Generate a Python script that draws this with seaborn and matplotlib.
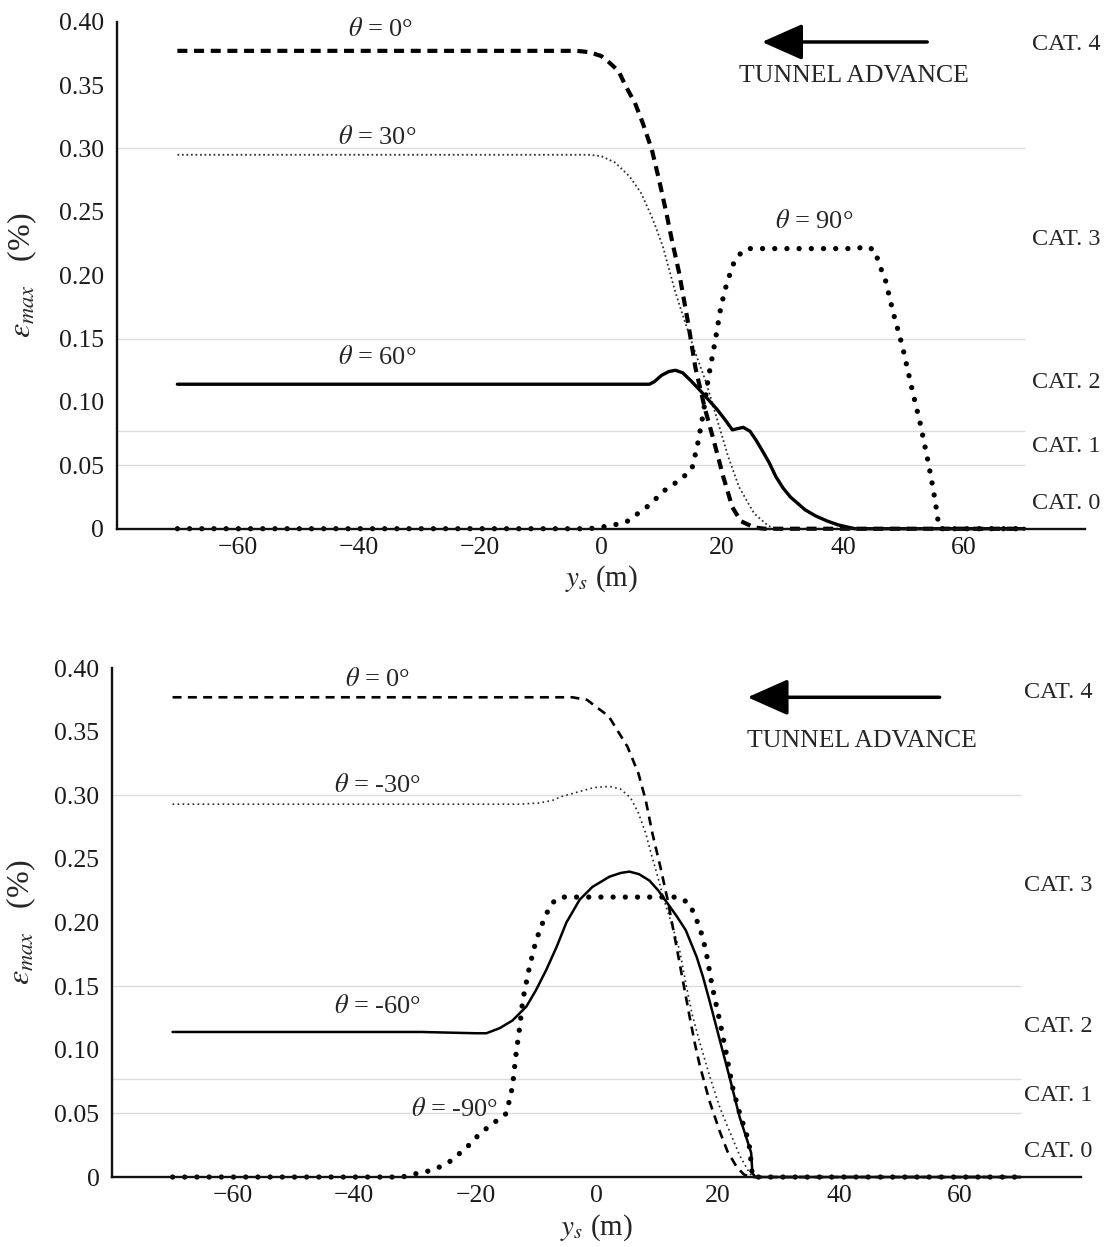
import numpy as np
import pandas as pd
import seaborn as sns
import matplotlib.pyplot as plt

# ---- upper panel (theta = 0, 30, 60, 90) ----
x0_top = [-70, -10, -4, -2, 0, 1.1, 2.9, 4.1, 5.6, 6.9, 8.4, 9.6, 10.8, 11.7, 12.9, 14.4,
          15.6, 17.1, 18.6, 20.2, 21.7, 23.1, 25.3, 27, 70]
y0_top = [0.377, 0.377, 0.377, 0.376, 0.373, 0.369, 0.361, 0.349, 0.336, 0.320, 0.299, 0.275,
          0.249, 0.228, 0.202, 0.162, 0.127, 0.096, 0.070, 0.041, 0.017, 0.006, 0.001, 0, 0]

x30_top = [-70, -4, -2, 0, 2.3, 4.7, 6.6, 8.4, 10.2, 11.4, 12.2, 13.4, 15.5, 17.4, 19.2, 21.0,
           22.8, 25.3, 27.7, 29, 70]
y30_top = [0.295, 0.295, 0.295, 0.294, 0.289, 0.278, 0.265, 0.246, 0.223, 0.202, 0.188, 0.170,
           0.140, 0.115, 0.086, 0.057, 0.033, 0.012, 0.002, 0, 0]

x60_top = [-70, 8.0, 8.8, 10, 11.2, 12.3, 13.5, 14.8, 16.2, 17.7, 19.2, 20.5, 21.7, 22.6, 23.5,
           24.6, 25.6, 26.6, 27.8, 28.9, 30.1, 31.3, 33.7, 35.5, 37.4, 39.2, 41.0, 42, 70]
y60_top = [0.114, 0.114, 0.116, 0.121, 0.124, 0.125, 0.123, 0.117, 0.110, 0.102, 0.094, 0.086,
           0.078, 0.079, 0.080, 0.077, 0.070, 0.062, 0.052, 0.041, 0.032, 0.025, 0.015, 0.010,
           0.006, 0.003, 0.001, 0, 0]

x90_top = [-70, -2, 1.1, 4.1, 7.8, 10.7, 13.2, 15.0, 15.9, 16.9, 17.7, 18.9, 19.8, 20.8, 22.1,
           23.6, 24.6, 42.5, 43.4, 45.2, 46.1, 47.0, 48.3, 49.8, 51.3, 52.7, 54.0, 54.9, 55.5,
           55.8, 56.2, 70]
y90_top = [0, 0, 0.002, 0.005, 0.018, 0.031, 0.039, 0.047, 0.065, 0.091, 0.118, 0.149, 0.175,
           0.194, 0.212, 0.220, 0.221, 0.221, 0.223, 0.220, 0.207, 0.196, 0.170, 0.144, 0.112,
           0.084, 0.054, 0.031, 0.013, 0.002, 0, 0]

# ---- lower panel (theta = 0, -30, -60, -90) ----
x0_bot = [-70, -8, -4, -1.6, 2.0, 5.1, 6.9, 8.1, 9.2, 10.5, 11.7, 13.1, 14.2, 15.3, 16.2, 17.0,
          18.6, 20.3, 21.6, 23.1, 24.3, 25.4, 26, 70]
y0_bot = [0.377, 0.377, 0.377, 0.375, 0.362, 0.338, 0.317, 0.296, 0.270, 0.244, 0.218, 0.183,
          0.155, 0.127, 0.105, 0.088, 0.060, 0.036, 0.020, 0.008, 0.002, 0, 0, 0]

x30_bot = [-70, -29, -12.7, -9.4, -7.3, -5.8, -2.8, -0.5, 2.1, 3.9, 5.6, 6.9, 8.1, 9.0, 9.9,
           11.1, 12.3, 13.7, 14.8, 15.8, 17.0, 18.6, 20.3, 21.4, 23.6, 25.0, 25.7, 70]
y30_bot = [0.293, 0.293, 0.293, 0.294, 0.296, 0.299, 0.303, 0.306, 0.307, 0.305, 0.298, 0.286,
           0.270, 0.254, 0.239, 0.218, 0.200, 0.178, 0.150, 0.127, 0.106, 0.080, 0.055, 0.042,
           0.017, 0.005, 0, 0]

x60_bot = [-70, -29, -20, -18.2, -16, -13.9, -11.6, -10, -8.3, -6.6, -5, -2.8, -0.7, 2.1, 4.0,
           5.4, 7.0, 8.7, 10.2, 11.7, 13.2, 14.7, 16.5, 17.5, 18.6, 20.3, 21.9, 23.6, 24.7, 25.5,
           25.7, 26.2, 70]
y60_bot = [0.114, 0.114, 0.113, 0.113, 0.117, 0.123, 0.134, 0.147, 0.163, 0.181, 0.200, 0.218,
           0.228, 0.236, 0.239, 0.240, 0.238, 0.233, 0.225, 0.215, 0.205, 0.194, 0.173, 0.158,
           0.139, 0.108, 0.079, 0.047, 0.031, 0.019, 0.003, 0, 0]

x90_bot = [-70, -32, -30.9, -29.2, -27.1, -25.4, -24.3, -21.5, -19.3, -17.7, -14.9, -13.9, -13.3,
           -12.7, -12.2, -11.1, -10.0, -8.9, -7.8, -6.8, -5.6, 13.5, 15.3, 16.5, 17.4, 18.1, 19.1,
           20.3, 21.4, 22.4, 23.6, 24.7, 25.2, 25.5, 25.7, 70]
y90_bot = [0, 0, 0.002, 0.003, 0.0055, 0.009, 0.012, 0.023, 0.034, 0.040, 0.050, 0.071, 0.097,
           0.118, 0.139, 0.165, 0.186, 0.200, 0.212, 0.218, 0.220, 0.220, 0.215, 0.202, 0.190,
           0.176, 0.149, 0.123, 0.097, 0.071, 0.050, 0.034, 0.024, 0.011, 0, 0]

cat_labels = ['CAT. 4', 'CAT. 3', 'CAT. 2', 'CAT. 1', 'CAT. 0']
cat_y_top = [0.382, 0.228, 0.115, 0.065, 0.020]
cat_y_bot = [0.381, 0.229, 0.118, 0.064, 0.020]
grid_levels = [0.05, 0.077, 0.15, 0.30]
yticks = [0, 0.05, 0.10, 0.15, 0.20, 0.25, 0.30, 0.35, 0.40]
ytick_labels = ['0', '0.05', '0.10', '0.15', '0.20', '0.25', '0.30', '0.35', '0.40']
xticks = [-60, -40, -20, 0, 20, 40, 60]

sns.set_theme(style='white')
plt.rcParams['font.family'] = ['Liberation Serif', 'DejaVu Serif']
plt.rcParams['mathtext.fontset'] = 'stix'

fig = plt.figure(figsize=(11.13, 12.47), dpi=100)
ax1 = fig.add_axes([0.105, 0.576, 0.870, 0.4066])
ax2 = fig.add_axes([0.1006, 0.0561, 0.871, 0.4082])


def draw(ax, x, y, **kw):
    sns.lineplot(x=x, y=y, ax=ax, color='black', clip_on=False, **kw)


# upper panel lines
draw(ax1, x0_top, y0_top, lw=3.0, linestyle=(0, (2.4, 1.6)))
draw(ax1, x30_top, y30_top, lw=1.3, linestyle=(0, (1, 1.5)), alpha=0.8)
draw(ax1, x60_top, y60_top, lw=2.4)
draw(ax1, x90_top, y90_top, lw=3.8, linestyle=(0, (0.01, 2.3)), dash_capstyle='round')

# lower panel lines
draw(ax2, x0_bot, y0_bot, lw=1.9, linestyle=(0, (3.4, 2.4)))
draw(ax2, x30_bot, y30_bot, lw=1.2, linestyle=(0, (1, 2.0)), alpha=0.85)
draw(ax2, x60_bot, y60_bot, lw=1.8)
draw(ax2, x90_bot, y90_bot, lw=3.8, linestyle=(0, (0.01, 2.3)), dash_capstyle='round')

for ax in (ax1, ax2):
    ax.hlines(grid_levels, -80, 70, color='#dcdcdc', lw=1.0, zorder=0)
    ax.set_xlim(-80, 80)
    ax.set_ylim(0, 0.40)
    ax.set_xticks(xticks)
    ax.set_yticks(yticks)
    ax.set_yticklabels(ytick_labels)
    ax.tick_params(direction='in', length=7, width=1.3, labelsize=18.5, colors='#1a1a1a')
    ax.tick_params(axis='y', pad=9)
    ax.tick_params(axis='x', pad=6)
    for side in ('top', 'right'):
        ax.spines[side].set_visible(False)
    for side in ('left', 'bottom'):
        ax.spines[side].set_linewidth(1.7)
        ax.spines[side].set_color('#111111')
    ax.set_ylabel(r'$\varepsilon_{max}$   (%)', fontsize=23)
    ax.set_xlabel(r'$y_s$ (m)', fontsize=21)

ax1.yaxis.set_label_coords(-0.080, 0.5)
ax2.yaxis.set_label_coords(-0.076, 0.5)
ax1.xaxis.set_label_coords(0.5, -0.068)
ax2.xaxis.set_label_coords(0.5, -0.070)

fs = 19
ax1.text(-36.5, 0.394, r'$\theta$ = 0°', ha='center', va='center', fontsize=fs)
ax1.text(-37, 0.309, r'$\theta$ = 30°', ha='center', va='center', fontsize=fs)
ax1.text(-37, 0.135, r'$\theta$ = 60°', ha='center', va='center', fontsize=fs)
ax1.text(35.2, 0.242, r'$\theta$ = 90°', ha='center', va='center', fontsize=fs)

ax2.text(-36.1, 0.391, r'$\theta$ = 0°', ha='center', va='center', fontsize=fs)
ax2.text(-36.1, 0.308, r'$\theta$ = -30°', ha='center', va='center', fontsize=fs)
ax2.text(-36.1, 0.134, r'$\theta$ = -60°', ha='center', va='center', fontsize=fs)
ax2.text(-23.4, 0.053, r'$\theta$ = -90°', ha='center', va='center', fontsize=fs)

arrow = dict(arrowstyle='-|>,head_length=0.9,head_width=0.4', lw=2.5, color='black',
             mutation_scale=28, shrinkA=0, shrinkB=0)
ax1.annotate('', xy=(26.6, 0.384), xytext=(53.9, 0.384), arrowprops=arrow)
ax1.text(41.8, 0.357, 'TUNNEL ADVANCE', ha='center', va='center', fontsize=18.5)
ax2.annotate('', xy=(24.9, 0.377), xytext=(56.6, 0.377), arrowprops=arrow)
ax2.text(43.7, 0.343, 'TUNNEL ADVANCE', ha='center', va='center', fontsize=18.5)

for lab, yy in zip(cat_labels, cat_y_top):
    ax1.text(71.2, yy, lab, ha='left', va='center', fontsize=17.5, clip_on=False)
for lab, yy in zip(cat_labels, cat_y_bot):
    ax2.text(70.6, yy, lab, ha='left', va='center', fontsize=17.5, clip_on=False)

fig.savefig('out.png', dpi=100, facecolor='white')
